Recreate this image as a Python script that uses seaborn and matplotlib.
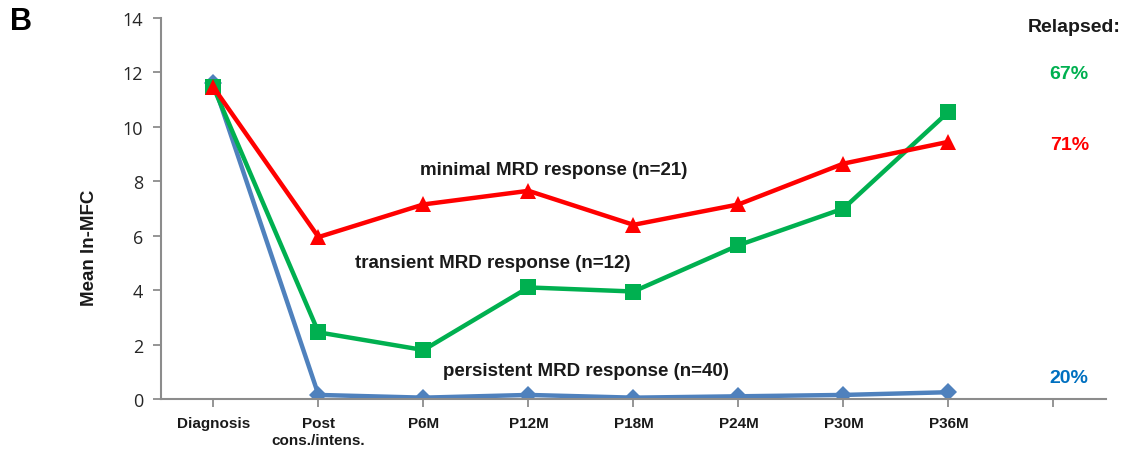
import matplotlib
matplotlib.use("Agg")
import matplotlib.pyplot as plt
import seaborn as sns
import pandas as pd

# Time points of the follow-up (last slot left empty on the axis)
categories = ["Diagnosis", "Post\ncons./intens.", "P6M", "P12M", "P18M",
              "P24M", "P30M", "P36M", ""]

# Mean ln-MFC per MRD response group
persistent = [11.6, 0.15, 0.05, 0.15, 0.05, 0.10, 0.15, 0.25]
transient = [11.45, 2.45, 1.80, 4.10, 3.95, 5.65, 7.00, 10.55]
minimal = [11.45, 5.95, 7.15, 7.65, 6.40, 7.15, 8.65, 9.45]

group_labels = ["persistent MRD response (n=40)",
                "transient MRD response (n=12)",
                "minimal MRD response (n=21)"]
relapsed = ["20%", "67%", "71%"]

y_ticks = [0, 2, 4, 6, 8, 10, 12, 14]

BLUE = "#4F81BD"
GREEN = "#00B050"
RED = "#FF0000"
PCT_BLUE = "#0070C0"
TEXT = "#1a1a1a"

sns.set_theme(style="white")
plt.rcParams["font.family"] = ["Liberation Sans", "DejaVu Sans"]

fig = plt.figure(figsize=(11.25, 4.52), dpi=100)
ax = fig.add_axes([0.1431, 0.115, 0.8400, 0.843])

series = [
    (persistent, BLUE, "D", 9.5),
    (transient, GREEN, "s", 11.5),
    (minimal, RED, "^", 11.5),
]
for values, color, marker, msize in series:
    df = pd.DataFrame({"x": range(len(values)), "y": values})
    sns.lineplot(data=df, x="x", y="y", ax=ax, color=color, linewidth=3.2,
                 marker=marker, markersize=msize, markeredgecolor=color,
                 markeredgewidth=0, sort=False, errorbar=None)

ax.set_xlim(-0.5, len(categories) - 0.5)
ax.set_ylim(0, 14)
ax.set_xticks(range(len(categories)))
ax.set_xticklabels(categories, fontsize=11, fontweight="bold", color=TEXT,
                   linespacing=1.3)
ax.set_yticks(y_ticks)
ax.set_yticklabels([str(t) for t in y_ticks], fontsize=13, color="#262626",
                   family=["Open Sans", "DejaVu Sans"])
ax.set_xlabel("")
ax.set_ylabel("Mean ln-MFC", fontsize=13.5, fontweight="bold", color=TEXT)
ax.yaxis.set_label_coords(-0.0667, 0.40)

for side in ["top", "right"]:
    ax.spines[side].set_visible(False)
for side in ["left", "bottom"]:
    ax.spines[side].set_color("#8c8c8c")
    ax.spines[side].set_linewidth(1.5)
ax.tick_params(axis="both", which="both", direction="out", length=6,
               width=1.3, color="#8c8c8c", left=True, bottom=True)
ax.tick_params(axis="y", pad=7)
ax.tick_params(axis="x", pad=6)
ax.grid(False)

# Group labels next to their curves
label_style = dict(ha="center", va="center", fontsize=13.5,
                   fontweight="bold", color=TEXT)
ax.text(3.55, 1.03, group_labels[0], **label_style)
ax.text(2.66, 5.03, group_labels[1], **label_style)
ax.text(3.24, 8.45, group_labels[2], **label_style)

# Relapse rates on the right
fig.text(1074 / 1125, 1 - 28 / 452, "Relapsed:", ha="center", va="center",
         fontsize=14, fontweight="bold", color=TEXT)
pct_style = dict(ha="center", va="center", fontsize=14, fontweight="bold")
ax.text(8.15, 11.95, relapsed[1], color=GREEN, **pct_style)
ax.text(8.15, 9.35, relapsed[2], color=RED, **pct_style)
ax.text(8.15, 0.8, relapsed[0], color=PCT_BLUE, **pct_style)

# Panel letter
fig.text(10 / 1125, 1 - 22 / 452, "B", ha="left", va="center", fontsize=22,
         fontweight="bold", color="#000000")

fig.savefig("out.png", dpi=100)
